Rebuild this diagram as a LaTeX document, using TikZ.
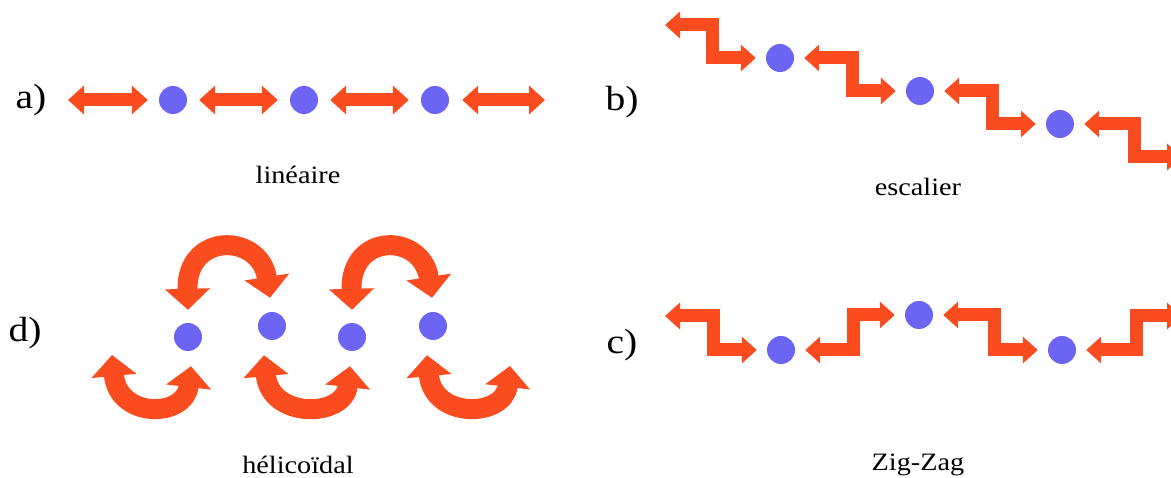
\documentclass[tikz,border=0pt]{standalone}
\usepackage{fontspec}
\setmainfont{Liberation Serif}
\usetikzlibrary{arrows.meta}
\definecolor{arr}{RGB}{250,76,30}
\definecolor{dot}{RGB}{108,100,242}
\newcommand{\wide}[1]{\scalebox{1.13}[1]{#1}}
\tikzset{
  atom/.style={circle,fill=dot,draw=none,minimum size=28pt,inner sep=0pt},
  lab/.style={font=\fontsize{35}{35}\selectfont,inner sep=0pt},
  captxt/.style={font=\fontsize{25}{25}\selectfont,inner sep=0pt},
  linarrow/.style={draw=arr,line width=13pt,
    {Triangle[width=28pt,length=16pt]}-{Triangle[width=28pt,length=16pt]}},
  steparrow/.style={draw=arr,line width=13pt,line join=miter,
    {Triangle[width=26pt,length=15pt]}-{Triangle[width=26pt,length=15pt]}},
  curvearrow/.style={draw=arr,line width=20pt,
    {Triangle[width=44pt,length=21pt]}-{Triangle[width=44pt,length=21pt]}}
}
\begin{document}
\begin{tikzpicture}[x=1pt,y=-1pt]
\useasboundingbox (0,0) rectangle (1171,478);
\clip (0,0) rectangle (1171,478);

% ---------- a) lineaire ----------
\node[lab] (la) at (31,100) {\wide{a)}};
\node[atom] (a1) at (173,100) {};
\node[atom] (a2) at (304,100) {};
\node[atom] (a3) at (435,100) {};
\coordinate (as) at (68,100);
\coordinate (ae) at (545,100);
\draw[linarrow] (as) -- ([xshift=-11pt]a1.west);
\draw[linarrow] ([xshift=12pt]a1.east) -- ([xshift=-12pt]a2.west);
\draw[linarrow] ([xshift=12pt]a2.east) -- ([xshift=-12pt]a3.west);
\draw[linarrow] ([xshift=13pt]a3.east) -- (ae);
\node[captxt] (ca) at (298,175) {\wide{linéaire}};

% ---------- b) escalier ----------
\node[lab] (lb) at (622,102) {\wide{b)}};
\node[atom] (b1) at (780,58) {};
\node[atom] (b2) at (920,91) {};
\node[atom] (b3) at (1060,124) {};
\coordinate (bs) at (665,25);
\coordinate (be) at (1182,157);
\draw[steparrow] (bs) -| ([xshift=-53pt]b1.west) -- ([xshift=-10pt]b1.west);
\draw[steparrow] ([xshift=10pt]b1.east) -| ([xshift=-53pt]b2.west) -- ([xshift=-10pt]b2.west);
\draw[steparrow] ([xshift=10pt]b2.east) -| ([xshift=-53pt]b3.west) -- ([xshift=-10pt]b3.west);
\draw[steparrow] ([xshift=10pt]b3.east) -| ([xshift=-48pt]be) -- (be);
\node[captxt] (cb) at (918,187) {\wide{escalier}};

% ---------- c) Zig-Zag ----------
\node[lab] (lc) at (622,345) {\wide{c)}};
\node[atom] (c1) at (781,350) {};
\node[atom] (c2) at (919,315) {};
\node[atom] (c3) at (1062,350) {};
\coordinate (cs) at (665,316);
\coordinate (ce) at (1182,316);
\draw[steparrow] (cs) -| ([xshift=-53pt]c1.west) -- ([xshift=-10pt]c1.west);
\draw[steparrow] ([xshift=10pt]c1.east) -| ([xshift=-51pt]c2.west) -- ([xshift=-10pt]c2.west);
\draw[steparrow] ([xshift=10pt]c2.east) -| ([xshift=-53pt]c3.west) -- ([xshift=-10pt]c3.west);
\draw[steparrow] ([xshift=10pt]c3.east) -| ([xshift=-46pt]ce) -- (ce);
\node[captxt] (cc) at (918,465) {\wide{Zig-Zag}};

% ---------- d) helicoidal ----------
\node[lab] (ld) at (25,333) {\wide{d)}};
\node[atom] (d1) at (188,337) {};
\node[atom] (d2) at (272,326) {};
\node[atom] (d3) at (352,337) {};
\node[atom] (d4) at (433,326) {};
\coordinate (ds) at (112,355);
\coordinate (de) at (510,366);
% upper arcs
\draw[curvearrow] ([yshift=13pt]d1.north) .. controls +(-2,-78) and +(-10,-65) .. ([yshift=14pt,xshift=-2pt]d2.north);
\draw[curvearrow] ([yshift=13pt]d3.north) .. controls +(-2,-78) and +(-10,-65) .. ([yshift=14pt,xshift=-1pt]d4.north);
% lower arcs
\draw[curvearrow] (ds) .. controls +(6,64) and +(-6,52) .. ([yshift=-15pt,xshift=3pt]d1.south);
\draw[curvearrow] ([yshift=-15pt,xshift=-8pt]d2.south) .. controls +(6,64) and +(-6,52) .. ([yshift=-15pt,xshift=-2pt]d3.south);
\draw[curvearrow] ([yshift=-15pt,xshift=-6pt]d4.south) .. controls +(6,64) and +(-6,52) .. (de);
\node[captxt] (cd) at (298,465) {\wide{hélicoïdal}};
\end{tikzpicture}
\end{document}
